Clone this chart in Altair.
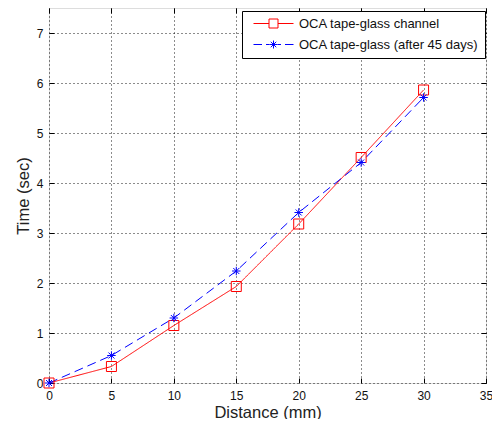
import altair as alt
import pandas as pd

distance = [0, 5, 10, 15, 20, 25, 30]
time_channel = [0, 0.33, 1.15, 1.93, 3.18, 4.51, 5.86]
time_45days = [0, 0.55, 1.30, 2.24, 3.41, 4.41, 5.71]
series_names = ["OCA tape-glass channel", "OCA tape-glass (after 45 days)"]
series_colors = ["#ff0000", "#0000ff"]
x_ticks = [0, 5, 10, 15, 20, 25, 30, 35]
y_ticks = [0, 1, 2, 3, 4, 5, 6, 7]

rows = []
for d, t in zip(distance, time_channel):
    rows.append({"distance": d, "time": t, "series": series_names[0]})
for d, t in zip(distance, time_45days):
    rows.append({"distance": d, "time": t, "series": series_names[1]})
df = pd.DataFrame(rows)

FONT = "Liberation Sans"

# marker shapes in the plot
square_path = "M-1,-1H1V1H-1Z"
star_path = "M0,-0.85V0.85M-0.85,0H0.85M-0.6,-0.6L0.6,0.6M-0.6,0.6L0.6,-0.6"
# legend symbols: line + marker
legend_red = "M-1,0H2.1M3.9,0H7M2.1,-0.9H3.9V0.9H2.1Z"
legend_blue = ("M-1,0H0.7M1.5,0H2.2M3.8,0H4.5M5.3,0H7"
               "M3,-0.8V0.8M2.2,0H3.8M2.45,-0.55L3.55,0.55M2.45,0.55L3.55,-0.55")

xscale = alt.Scale(domain=[0, 35], nice=False)
yscale = alt.Scale(domain=[0, 7.5], nice=False)
cscale = alt.Scale(domain=series_names, range=series_colors)

x_main = alt.X("distance:Q", scale=xscale, axis=alt.Axis(
    orient="bottom", values=x_ticks, offset=-5, tickSize=5, domain=False,
    grid=True, gridColor="#000000", gridDash=[1, 3], gridOpacity=0.9,
    labelPadding=7, labelFont=FONT, labelFontSize=12, labelColor="#111",
    tickColor="#000", title="Distance (mm)", titleFont=FONT,
    titleFontSize=16.5, titleFontWeight=300, titleColor="#222",
    titlePadding=3, labelFlush=False))
y_main = alt.Y("time:Q", scale=yscale, axis=alt.Axis(
    orient="left", values=y_ticks, offset=-5, tickSize=5, domain=False,
    grid=True, gridColor="#000000", gridDash=[1, 3], gridOpacity=0.9,
    labelPadding=6, labelFont=FONT, labelFontSize=12, labelColor="#111",
    tickColor="#000", title="Time (sec)", titleFont=FONT,
    titleFontSize=16.5, titleFontWeight=300, titleColor="#222",
    titlePadding=5, labelFlush=False))

lines = alt.Chart(df).mark_line(strokeWidth=1).encode(
    x=x_main,
    y=y_main,
    color=alt.Color("series:N", scale=cscale, legend=None),
    strokeDash=alt.StrokeDash("series:N", scale=alt.Scale(
        domain=series_names, range=[[1, 0], [9, 5]]), legend=None),
)

x_top = alt.X("distance:Q", scale=xscale, axis=alt.Axis(
    orient="top", values=x_ticks, offset=-5, tickSize=5, domain=False,
    grid=False, labels=False, title=None, tickColor="#000"))
y_right = alt.Y("time:Q", scale=yscale, axis=alt.Axis(
    orient="right", values=y_ticks, offset=-5, tickSize=5, domain=False,
    grid=False, labels=False, title=None, tickColor="#000"))

markers = alt.Chart(df).mark_point(filled=False, strokeWidth=1, size=100, opacity=1).encode(
    x=x_top,
    y=y_right,
    color=alt.Color("series:N", scale=cscale, legend=None),
    shape=alt.Shape("series:N", scale=alt.Scale(
        domain=series_names, range=[square_path, star_path]), legend=None),
)

legend_props = dict(
    orient="none", legendX=193, legendY=3, title=None,
    strokeColor="#000", fillColor="#fff", padding=6,
    symbolSize=100, symbolOffset=4, labelOffset=34,
    labelFont=FONT, labelFontSize=13, labelColor="#111",
    labelLimit=400, rowPadding=7, symbolStrokeWidth=1)

legend_layer = alt.Chart(df).mark_point(filled=False, strokeWidth=1, size=100, opacity=0).encode(
    x=alt.X("distance:Q", scale=xscale, axis=None),
    y=alt.Y("time:Q", scale=yscale, axis=None),
    color=alt.Color("series:N", scale=cscale, legend=alt.Legend(**legend_props)),
    shape=alt.Shape("series:N", scale=alt.Scale(
        domain=series_names, range=[legend_red, legend_blue]),
        legend=alt.Legend(**legend_props)),
)

chart = alt.layer(lines, markers, legend_layer).resolve_scale(
    color="independent", shape="independent", strokeDash="independent"
).resolve_axis(
    x="independent", y="independent"
).properties(
    width=437, height=375,
    autosize=alt.AutoSizeParams(type="none"),
    padding={"left": 41, "top": 0, "right": 6, "bottom": 36},
).configure_view(
    stroke="#000", strokeWidth=1
).configure(background="#ffffff")

chart.save("out.html", embed_options={"renderer": "svg", "actions": False})
